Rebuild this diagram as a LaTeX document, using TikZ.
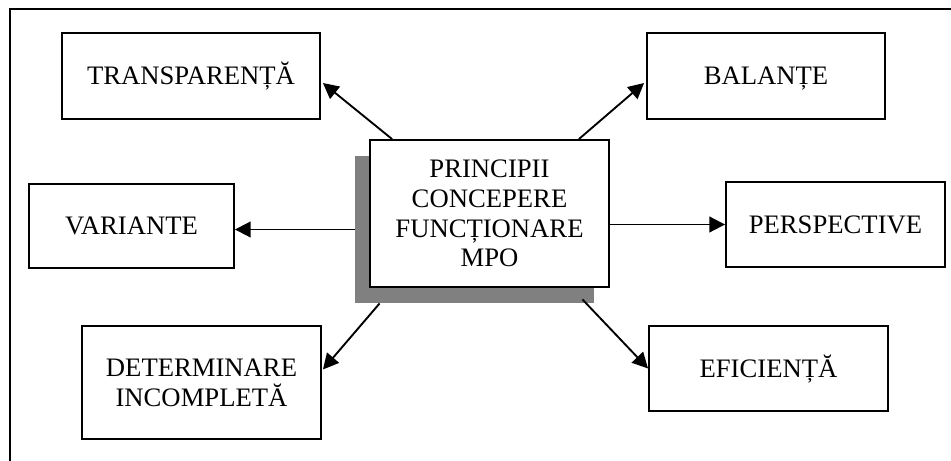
\documentclass[tikz,border=0pt]{standalone}
\usepackage{fontspec}
\setmainfont{Liberation Serif}
\usetikzlibrary{arrows.meta,calc}

\begin{document}
\begin{tikzpicture}[x=0.48pt, y=-0.48pt,
		cutie/.style={draw, line width=0.9pt, fill=white, align=center, inner sep=0pt,
			font=\fontsize{12.8}{14.3}\selectfont},
		unrand/.style={cutie, text height=8.4pt, text depth=0pt},
		sageata/.style={line width=0.9pt, -{Triangle[length=7.5pt,width=7.5pt]}}]
		\useasboundingbox (0,0) rectangle (951,461);

		% Cadru
		\draw[line width=0.9pt] (10,461) -- (10,9) -- (951,9);

		% Umbra si nodul central
		\node[fill=gray, inner sep=0pt, minimum width=114.72pt, minimum height=70.56pt] (umbra) at (474.5,229.5) {};
		\node[cutie, minimum width=114.72pt, minimum height=70.56pt] (mpo) at (489.5,213.5) {PRINCIPII\\CONCEPERE\\FUNCȚIONARE\\MPO};

		% Principiile
		\node[unrand, minimum width=123.84pt, minimum height=41.28pt] (transp) at (191,76) {TRANSPARENȚĂ};
		\node[unrand, minimum width=114.24pt, minimum height=41.28pt] (balante) at (766,76) {BALANȚE};
		\node[unrand, minimum width=98.4pt, minimum height=40.32pt] (variante) at (131.5,226) {VARIANTE};
		\node[unrand, minimum width=105.12pt, minimum height=40.8pt] (persp) at (835.5,224.5) {PERSPECTIVE};
		\node[cutie, minimum width=114.72pt, minimum height=54.24pt] (determ) at (201.5,382.5) {DETERMINARE\\INCOMPLETĂ};
		\node[unrand, minimum width=114.72pt, minimum height=40.8pt] (efic) at (768.5,368.5) {EFICIENȚĂ};

		% Sageti
		\draw[sageata] ($(mpo.north west)+(23,0)$) -- ($(transp.east)+(2,7)$);
		\draw[sageata] ($(mpo.north east)+(-31,0)$) -- ($(balante.west)+(-2,7)$);
		\draw[sageata] (umbra.west) -- (umbra.west -| variante.east);
		\draw[sageata] (mpo.east |- persp.west) -- (persp.west);
		\draw[sageata] ($(umbra.south west)+(25,0)$) -- ($(determ.east)+(1,-13)$);
		\draw[sageata] ($(umbra.south east)+(-12,-4)$) -- (efic.west);
	\end{tikzpicture}
\end{document}
